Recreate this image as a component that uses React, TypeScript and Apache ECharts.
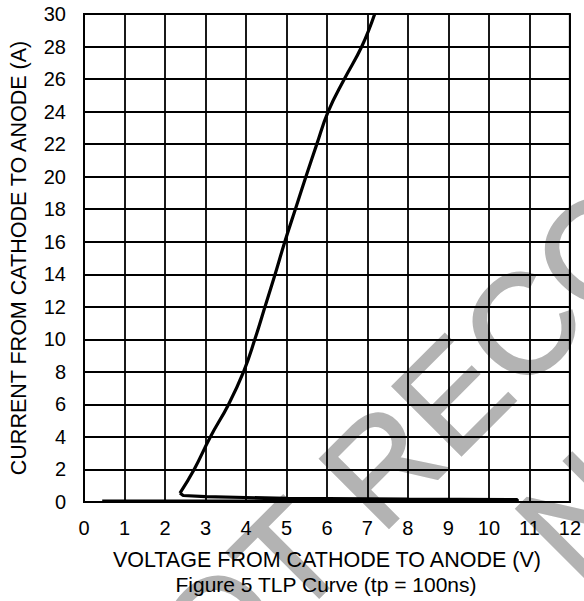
import React, { useEffect, useRef } from "react";
import * as echarts from "echarts";

const xTicks = [0, 1, 2, 3, 4, 5, 6, 7, 8, 9, 10, 11, 12];
const yTicks = [0, 2, 4, 6, 8, 10, 12, 14, 16, 18, 20, 22, 24, 26, 28, 30];

// Off-state sweep and snapback (voltage V, current A)
const offVoltage = [0.45, 10.7, 10.7, 8.0, 5.0, 3.0, 2.45, 2.37];
const offCurrent = [0.05, 0.08, 0.15, 0.18, 0.22, 0.33, 0.4, 0.55];

// On-state branch after snapback (voltage V, current A)
const onVoltage = [
  2.37, 2.72, 3.12, 3.57, 3.94, 4.22, 4.47, 4.72, 4.96, 5.22, 5.48, 5.75, 6.03,
  6.43, 6.86, 7.18,
];
const onCurrent = [
  0.55, 2, 4, 6, 8, 10, 12, 14, 16, 18, 20, 22, 24, 26, 28, 30,
];

const xName = "VOLTAGE FROM CATHODE TO ANODE (V)";
const yName = "CURRENT FROM CATHODE TO ANODE (A)";
const caption = "Figure 5 TLP Curve (tp = 100ns)";
const watermark1 = "NOT RECOMMENDED FOR NEW DESIGNS";
const watermark2 = "NO RECOMMENDED REPLACEMENT";

const FONT = "'Liberation Sans', Arial, Helvetica, sans-serif";

export default function App() {
  const ref = useRef<HTMLDivElement>(null);
  useEffect(() => {
    if (!ref.current) return;
    const chart = echarts.init(ref.current, null, { renderer: "svg" });
    const offData = offVoltage.map((v, i) => [v, offCurrent[i]]);
    const onData = onVoltage.map((v, i) => [v, onCurrent[i]]);
    const wmStyle = {
      fill: "#b3b3b3",
      stroke: "#b3b3b3",
      lineWidth: 2,
      font: `142px ${FONT}`,
      textAlign: "left",
      textVerticalAlign: "middle",
    };
    chart.setOption({
      animation: false,
      backgroundColor: "#ffffff",
      textStyle: { fontFamily: FONT },
      grid: {
        left: 84,
        top: 14,
        width: 486,
        height: 488,
        show: true,
        borderColor: "#000",
        borderWidth: 2,
        backgroundColor: "transparent",
      },
      xAxis: {
        type: "value",
        min: xTicks[0],
        max: xTicks[xTicks.length - 1],
        interval: 1,
        name: xName,
        nameLocation: "middle",
        nameGap: 47,
        nameTextStyle: { color: "#000", fontSize: 21.5, fontFamily: FONT },
        axisLine: { show: true, lineStyle: { color: "#000", width: 2 } },
        axisTick: { show: false },
        axisLabel: { color: "#000", fontSize: 20, margin: 16, fontFamily: FONT },
        splitLine: { show: true, lineStyle: { color: "#000", width: 1.8 } },
      },
      yAxis: {
        type: "value",
        min: yTicks[0],
        max: yTicks[yTicks.length - 1],
        interval: 2,
        name: yName,
        nameLocation: "middle",
        nameGap: 54,
        nameTextStyle: { color: "#000", fontSize: 21.5, fontFamily: FONT },
        axisLine: { show: true, lineStyle: { color: "#000", width: 2 } },
        axisTick: { show: false },
        axisLabel: { color: "#000", fontSize: 20, margin: 18, fontFamily: FONT },
        splitLine: { show: true, lineStyle: { color: "#000", width: 1.8 } },
      },
      graphic: [
        {
          type: "text",
          z: -100,
          silent: true,
          x: 107.7,
          y: 739,
          rotation: Math.PI / 4,
          style: { ...wmStyle, text: watermark1 },
        },
        {
          type: "text",
          z: -100,
          silent: true,
          x: 542,
          y: 551,
          rotation: Math.PI / 4,
          style: { ...wmStyle, text: watermark2 },
        },
        {
          type: "text",
          z: 10,
          x: 326,
          y: 584,
          style: {
            text: caption,
            fill: "#000",
            font: `21px ${FONT}`,
            textAlign: "center",
            textVerticalAlign: "middle",
          },
        },
      ],
      series: [
        {
          type: "line",
          data: offData,
          showSymbol: false,
          symbol: "none",
          smooth: false,
          z: 5,
          lineStyle: { color: "#000", width: 3.2 },
        },
        {
          type: "line",
          data: onData,
          showSymbol: false,
          symbol: "none",
          smooth: 0.45,
          z: 5,
          lineStyle: { color: "#000", width: 3.2, join: "round" },
        },
      ],
    });
    return () => chart.dispose();
  }, []);
  return (
    <div
      ref={ref}
      style={{ position: "absolute", left: 0, top: 0, width: 584, height: 601 }}
    />
  );
}
